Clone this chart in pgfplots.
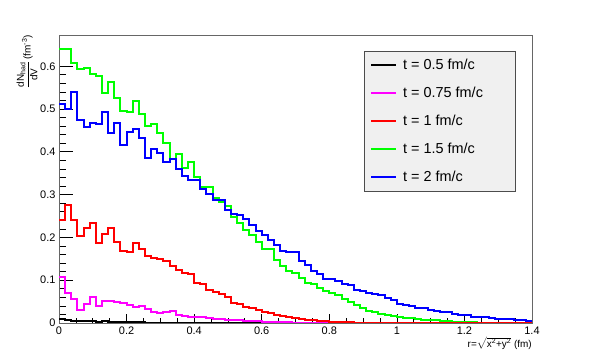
\documentclass[border=0pt]{standalone}
\usepackage{fontspec}
\setmainfont{Liberation Sans}
\usepackage{amsmath}
\usepackage{pgfplots}
\usepackage{pgfplotstable}
\pgfplotsset{compat=1.18}
\usetikzlibrary{calc}

\definecolor{hblk}{RGB}{0,0,0}
\definecolor{hmag}{RGB}{255,0,255}
\definecolor{hred}{RGB}{255,0,0}
\definecolor{hgrn}{RGB}{0,255,0}
\definecolor{hblu}{RGB}{0,0,255}

% 77 bins from 0 to 1.4 fm, last row repeats bin 76 to close the step
\pgfplotstableread{
bin blk mag red grn blu
0 0.009 0.108 0.240 0.640 0.511
1 0.006 0.069 0.276 0.640 0.500
2 0.005 0.057 0.240 0.607 0.540
3 0.004 0.030 0.204 0.594 0.475
4 0.004 0.045 0.221 0.596 0.457
5 0.005 0.061 0.233 0.582 0.468
6 0.003 0.040 0.186 0.578 0.465
7 0.004 0.051 0.207 0.537 0.494
8 0.003 0.051 0.221 0.564 0.445
9 0.003 0.048 0.190 0.525 0.468
10 0.002 0.046 0.168 0.496 0.416
11 0.003 0.043 0.166 0.494 0.447
12 0.002 0.037 0.186 0.518 0.453
13 0.002 0.040 0.174 0.488 0.432
14 0.001 0.032 0.157 0.461 0.386
15 0.001 0.026 0.151 0.465 0.407
16 0.001 0.024 0.150 0.444 0.397
17 0.001 0.026 0.145 0.420 0.376
18 0 0.027 0.134 0.383 0.383
19 0 0.018 0.123 0.394 0.360
20 0 0.017 0.116 0.362 0.344
21 0 0.015 0.114 0.377 0.333
22 0 0.013 0.094 0.342 0.333
23 0 0.013 0.091 0.317 0.312
24 0 0.011 0.076 0.317 0.301
25 0 0.009 0.072 0.293 0.287
26 0 0.009 0.068 0.283 0.287
27 0 0.008 0.061 0.273 0.264
28 0 0.007 0.047 0.248 0.255
29 0 0.006 0.045 0.233 0.252
30 0 0.005 0.037 0.217 0.242
31 0 0.005 0.036 0.205 0.229
32 0 0.004 0.031 0.190 0.216
33 0 0.003 0.026 0.172 0.205
34 0 0.003 0.024 0.172 0.195
35 0 0.002 0.018 0.147 0.182
36 0 0.002 0.016 0.133 0.169
37 0 0.002 0.013 0.122 0.166
38 0 0.001 0.011 0.117 0.165
39 0 0.001 0.010 0.106 0.145
40 0 0.001 0.008 0.094 0.135
41 0 0.001 0.007 0.091 0.122
42 0 0.001 0.005 0.081 0.114
43 0 0 0.004 0.075 0.102
44 0 0 0.003 0.069 0.102
45 0 0 0.003 0.065 0.098
46 0 0 0.002 0.055 0.092
47 0 0 0.002 0.049 0.088
48 0 0 0.001 0.041 0.077
49 0 0 0.001 0.036 0.075
50 0 0 0.001 0.028 0.071
51 0 0 0.001 0.025 0.067
52 0 0 0.001 0.021 0.065
53 0 0 0.001 0.019 0.059
54 0 0 0.001 0.016 0.053
55 0 0 0.001 0.014 0.044
56 0 0 0 0.012 0.041
57 0 0 0 0.011 0.039
58 0 0 0 0.009 0.036
59 0 0 0 0.008 0.034
60 0 0 0 0.007 0.030
61 0 0 0 0.006 0.027
62 0 0 0 0.005 0.026
63 0 0 0 0.004 0.025
64 0 0 0 0.003 0.022
65 0 0 0 0.003 0.018
66 0 0 0 0.002 0.018
67 0 0 0 0.002 0.014
68 0 0 0 0.001 0.014
69 0 0 0 0.001 0.013
70 0 0 0 0 0.012
71 0 0 0 0 0.010
72 0 0 0 0 0.010
73 0 0 0 0 0.009
74 0 0 0 0 0.008
75 0 0 0 0 0.006
76 0 0 0 0 0.005
77 0 0 0 0 0.005
}\histdata

\begin{document}
\begin{tikzpicture}
\begin{axis}[
    scale only axis,
    width=473bp, height=288bp,
    xmin=0, xmax=1.4, ymin=0, ymax=0.673,
    xtick={0,0.2,0.4,0.6,0.8,1,1.2,1.4},
    ytick={0,0.1,0.2,0.3,0.4,0.5,0.6},
    minor x tick num=3, minor y tick num=4,
    tick pos=left, tick align=inside,
    axis line style={black!60},
    tick style={black, line width=0.7bp},
    xtick style={/pgfplots/major tick length=9bp, /pgfplots/minor tick length=4.5bp},
    ytick style={/pgfplots/major tick length=14bp, /pgfplots/minor tick length=7bp},
    ticklabel style={font=\fontsize{11}{12}\selectfont},
    /pgf/number format/assume math mode=true,
    /pgf/number format/fixed,
    legend style={at={(rel axis cs:0.645,0.945)}, anchor=north west,
        fill=black!6, draw=black!70,
        inner xsep=6bp, inner ysep=8.3bp,
        row sep=16bp, column sep=6bp,
        nodes={inner sep=0pt, text height=10bp, text depth=2bp},
        font=\fontsize{14.5}{16}\selectfont},
    legend cell align=left,
    legend image code/.code={\draw[#1, line width=1.8bp] (0bp,0bp) -- (25bp,0bp);},
]
\addlegendimage{draw=hblk}
\addlegendentry{\makebox[106bp][l]{t = 0.5 fm/c}}
\addlegendimage{draw=hmag}
\addlegendentry{\makebox[106bp][l]{t = 0.75 fm/c}}
\addlegendimage{draw=hred}
\addlegendentry{\makebox[106bp][l]{t = 1 fm/c}}
\addlegendimage{draw=hgrn}
\addlegendentry{\makebox[106bp][l]{t = 1.5 fm/c}}
\addlegendimage{draw=hblu}
\addlegendentry{\makebox[106bp][l]{t = 2 fm/c}}

\addplot[const plot, hgrn, line width=2bp, forget plot] table[x expr=\thisrow{bin}*1.4/77, y=grn] {\histdata};
\addplot[const plot, hblu, line width=2bp, forget plot] table[x expr=\thisrow{bin}*1.4/77, y=blu] {\histdata};
\addplot[const plot, hblk, line width=2bp, forget plot] table[x expr=\thisrow{bin}*1.4/77, y=blk] {\histdata};
\addplot[const plot, hmag, line width=2bp, forget plot] table[x expr=\thisrow{bin}*1.4/77, y=mag] {\histdata};
\addplot[const plot, hred, line width=2bp, forget plot] table[x expr=\thisrow{bin}*1.4/77, y=red] {\histdata};
\end{axis}
\node[rotate=90, anchor=east, font=\fontsize{10}{11}\selectfont, inner sep=0pt]
    at ([xshift=-32bp]current axis.north west)
    {$\displaystyle\frac{\text{dN}_{\text{had}}}{\text{dV}}$\,(fm\textsuperscript{-3})};
\node[anchor=north east, font=\fontsize{10}{11}\selectfont, inner sep=0pt]
    at ([yshift=-14bp]current axis.south east)
    {r=$\sqrt{\text{x\textsuperscript{2}+y\textsuperscript{2}}}$ (fm)};
\pgfresetboundingbox
\path[use as bounding box] ($(current axis.south west)+(-59bp,-36bp)$) rectangle ++(591bp,359bp);
\end{tikzpicture}
\end{document}
